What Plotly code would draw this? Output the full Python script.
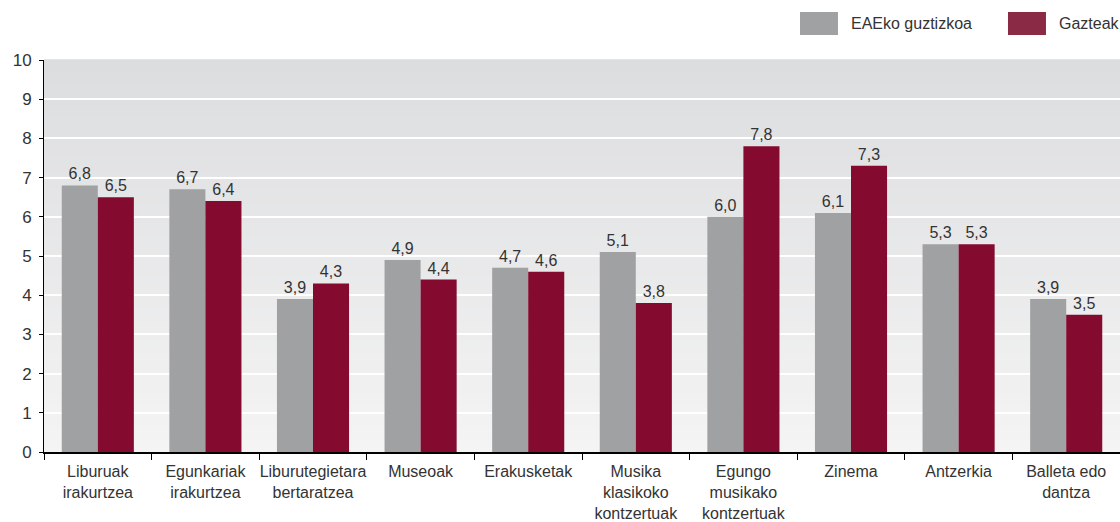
"""Grouped bar chart: EAEko guztizkoa vs Gazteak, cultural activities."""
import plotly.graph_objects as go

# ── data ──────────────────────────────────────────────────────────────────────
categories = [
    "Liburuak<br>irakurtzea",
    "Egunkariak<br>irakurtzea",
    "Liburutegietara<br>bertaratzea",
    "Museoak",
    "Erakusketak",
    "Musika<br>klasikoko<br>kontzertuak",
    "Egungo<br>musikako<br>kontzertuak",
    "Zinema",
    "Antzerkia",
    "Balleta edo<br>dantza",
]
eae_total = [6.8, 6.7, 3.9, 4.9, 4.7, 5.1, 6.0, 6.1, 5.3, 3.9]
gazteak = [6.5, 6.4, 4.3, 4.4, 4.6, 3.8, 7.8, 7.3, 5.3, 3.5]
series_names = ["EAEko guztizkoa", "Gazteak"]
y_ticks = list(range(0, 11))

# ── style ─────────────────────────────────────────────────────────────────────
GREY = "#a0a1a3"
RED = "#840a30"
RED_LEGEND = "#8a2a45"
TEXT = "#333333"
FONT = "Liberation Sans, Arial, sans-serif"

fig = go.Figure()
for name, vals, col in [(series_names[0], eae_total, GREY), (series_names[1], gazteak, RED)]:
    fig.add_trace(go.Bar(
        x=categories, y=vals, name=name,
        marker=dict(color=col, line=dict(width=0)),
        texttemplate="%{y:.1f}", textposition="outside",
        textfont=dict(size=16, color=TEXT, family=FONT),
        cliponaxis=False,
    ))

# vertical gradient for the plot background (light at bottom, darker at top)
top_rgb = (220, 221, 223)
bot_rgb = (244, 244, 244)
n_bands = 60
shapes = []
for i in range(n_bands):
    t = i / (n_bands - 1)
    c = tuple(round(b + (a - b) * t) for a, b in zip(top_rgb, bot_rgb))
    shapes.append(dict(
        type="rect", xref="x domain", yref="y domain",
        x0=0, x1=1, y0=i / n_bands, y1=(i + 1) / n_bands + 0.002,
        fillcolor="rgb(%d,%d,%d)" % c, line=dict(width=0), layer="below",
    ))

# custom legend with large swatches
legend_items = [(series_names[0], GREY, 0.7026), (series_names[1], RED_LEGEND, 0.8959)]
annotations = []
for name, col, x0 in legend_items:
    shapes.append(dict(
        type="rect", xref="paper", yref="paper",
        x0=x0, x1=x0 + 0.0353, y0=1.0638, y1=1.1224,
        fillcolor=col, line=dict(width=0),
    ))
    annotations.append(dict(
        text=name, xref="paper", yref="paper", x=x0 + 0.0455, y=1.0931,
        xanchor="left", yanchor="middle", showarrow=False,
        font=dict(size=16, color=TEXT, family=FONT),
    ))

fig.update_layout(
    width=1120, height=522,
    margin=dict(l=44, r=0, t=60, b=70),
    paper_bgcolor="white", plot_bgcolor="#f0f0f0",
    barmode="group", bargap=0.33, bargroupgap=0,
    separators=",.",
    showlegend=False,
    font=dict(family=FONT, size=16, color=TEXT),
    shapes=shapes, annotations=annotations,
)
fig.update_yaxes(
    range=[0, 10], tickvals=y_ticks, automargin=False,
    showgrid=True, gridcolor="white", gridwidth=1.5,
    showline=True, linecolor="black", linewidth=1,
    ticks="outside", ticklen=4, tickcolor="black",
    tickfont=dict(size=17, color=TEXT), ticklabelstandoff=4, zeroline=False,
)
fig.update_xaxes(
    automargin=False, tickangle=0,
    showline=True, linecolor="black", linewidth=1.5,
    ticks="outside", tickson="boundaries", ticklen=6, tickcolor="black",
    tickfont=dict(size=16, color=TEXT), ticklabelstandoff=4, showgrid=False,
)

# the page's default body margin would shift the chart by 8px
fig.write_html(
    "out.html",
    config={"displayModeBar": False},
    post_script="document.body.style.margin='0';",
)
